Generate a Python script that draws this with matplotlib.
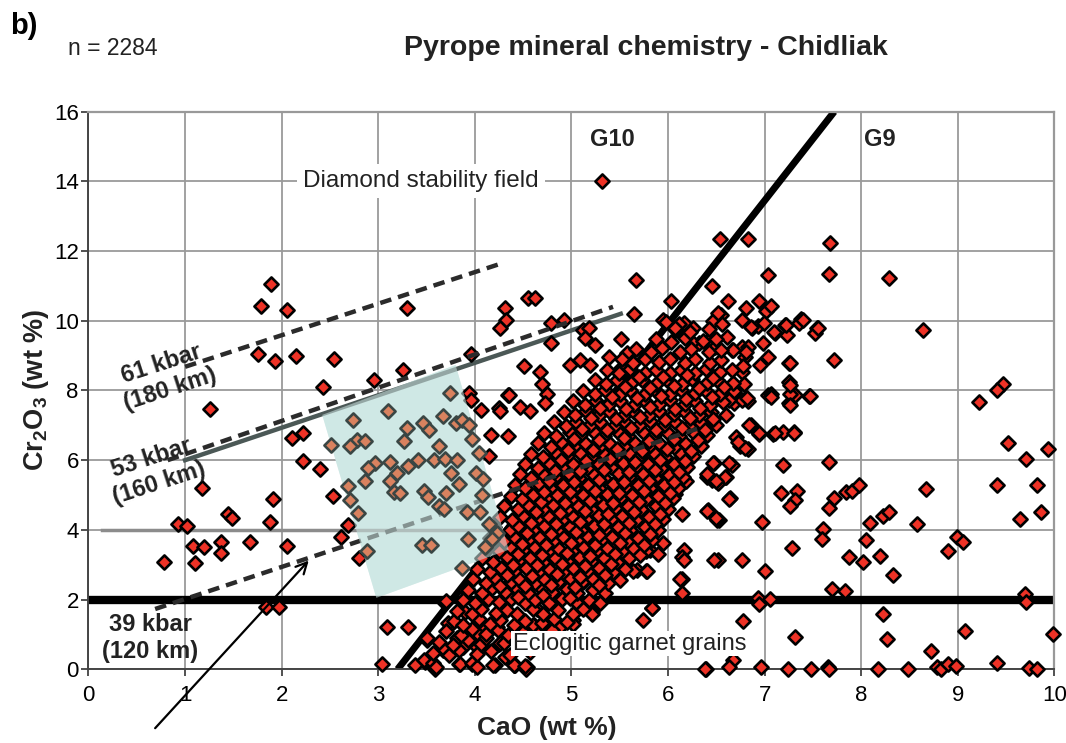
import matplotlib
matplotlib.use("Agg")
import matplotlib.pyplot as plt
from matplotlib.patches import Polygon

plt.rcParams['font.family'] = ['Liberation Sans', 'DejaVu Sans']
plt.rcParams['mathtext.fontset'] = 'custom'
plt.rcParams['mathtext.rm'] = 'Liberation Sans'
plt.rcParams['mathtext.bf'] = 'Liberation Sans:bold'

# ---------------- data ----------------
x_ticks = list(range(0, 11))
y_ticks = list(range(0, 17, 2))

# reference lines (CaO, Cr2O3)
g10_cao = [3.2, 7.72]
g10_cr = [0.0, 16.0]
kbar61_cao = [1.0, 4.28]
kbar61_cr = [8.68, 11.65]
kbar53_dash_cao = [0.82, 5.43]
kbar53_dash_cr = [6.0, 10.4]
kbar53_solid_cao = [1.0, 5.51]
kbar53_solid_cr = [6.0, 10.2]
kbar39_cao = [0.69, 6.3]
kbar39_cr = [1.73, 6.9]
cr2_line_cao = [0.0, 10.0]
cr2_line_cr = [2.0, 2.0]
cr4_line_cao = [0.14, 4.3]
cr4_line_cr = [4.0, 4.0]

# highlighted field (teal polygon)
field_cao = [2.42, 3.80, 4.35, 2.98]
field_cr = [7.3, 8.73, 3.43, 2.05]

# scattered grains outside the dense band
outer_pts = [
    (1.89, 11.05), (1.79, 10.43), (2.05, 10.3), (1.75, 9.05), (1.93, 8.85), (2.15, 9.0),
    (2.43, 8.1), (1.26, 7.47), (2.11, 6.63), (2.22, 6.77), (2.22, 5.99), (2.40, 5.74),
    (1.18, 5.2), (1.91, 4.88), (1.44, 4.46), (1.49, 4.33), (1.88, 4.24), (0.93, 4.16),
    (1.02, 4.1), (1.08, 3.55), (1.2, 3.52), (1.37, 3.65), (1.37, 3.33), (1.67, 3.66),
    (2.05, 3.55), (0.78, 3.07), (1.10, 3.06), (1.84, 1.78), (1.97, 1.8), (2.53, 4.97),
    (2.69, 4.14), (2.61, 3.81), (2.80, 3.2), (3.09, 1.22), (3.31, 1.22), (3.04, 0.15),
    (2.54, 8.9), (3.26, 8.59), (2.96, 8.3), (3.96, 9.05), (3.30, 10.38),
    (3.94, 7.94), (3.96, 7.73), (4.06, 7.45), (4.25, 7.5), (4.34, 7.88),
    (4.17, 6.73), (4.34, 6.69), (4.15, 6.11), (4.26, 7.4), (4.47, 7.54), (4.57, 7.4),
    (4.31, 10.37), (4.32, 10.03), (4.26, 9.79), (4.55, 10.65), (4.62, 10.65),
    (5.65, 10.2), (5.67, 11.17), (5.51, 9.47), (4.79, 9.93), (4.92, 10.03),
    (5.12, 9.74), (5.18, 9.79), (5.14, 9.5), (5.24, 9.31), (4.79, 9.36), (4.51, 8.7),
    (4.67, 8.54), (4.69, 8.2), (4.75, 7.91), (4.73, 7.64), (4.35, 7.87),
    (4.98, 8.73), (5.09, 8.88), (5.19, 8.73), (5.39, 8.97), (5.51, 8.64), (5.57, 9.07),
    (5.32, 14.0), (6.54, 12.34), (6.83, 12.34), (7.68, 12.22), (6.45, 10.99),
    (7.03, 11.31), (7.67, 11.33), (8.29, 11.23), (8.64, 9.74), (6.03, 10.56),
    (5.95, 10.03), (6.07, 9.76), (6.16, 9.93), (6.26, 9.8), (6.62, 10.56), (6.46, 9.98),
    (6.55, 10.17), (6.77, 10.03), (6.81, 10.37), (6.94, 10.56), (7.01, 10.27),
    (7.07, 10.41), (7.21, 9.88), (7.38, 10.05), (7.36, 9.93), (7.54, 9.79), (7.52, 9.64),
    (6.87, 9.79), (6.93, 9.84), (6.99, 9.93), (7.11, 9.64), (7.23, 9.6), (7.72, 8.87),
    (7.25, 8.8), (6.98, 9.36), (7.03, 8.97), (6.95, 8.73), (7.25, 8.25), (7.03, 7.87),
    (7.07, 7.91), (7.25, 7.63), (7.29, 7.87), (7.46, 7.84), (6.77, 8.54), (6.79, 8.2),
    (6.81, 7.77), (9.47, 8.2), (9.41, 8.0), (9.22, 7.67), (6.52, 10.23), (6.56, 9.92),
    (6.11, 9.92), (6.08, 9.73), (5.98, 9.97), (6.18, 9.54), (6.32, 9.35), (6.25, 9.4),
    (6.42, 9.45), (6.49, 9.26), (6.61, 9.54), (6.66, 9.16), (6.76, 9.26), (6.80, 8.97),
    (6.78, 8.69), (6.86, 9.82), (7.10, 9.68), (7.22, 9.87), (7.40, 10.03), (7.55, 9.8),
    (6.83, 9.25), (6.81, 9.1), (6.67, 9.15), (7.26, 8.79), (7.31, 7.86), (7.47, 7.83),
    (7.26, 7.91), (6.83, 7.71), (6.86, 7.02), (6.94, 6.74), (7.09, 6.74), (7.30, 6.8),
    (6.83, 6.32), (6.74, 6.42), (9.52, 6.49), (9.93, 6.32), (9.71, 6.02), (6.48, 5.91),
    (6.66, 5.85), (7.19, 5.86), (7.67, 5.96), (6.40, 5.51), (6.60, 5.53),
    (6.52, 5.35), (6.64, 4.91), (6.41, 4.56), (6.53, 4.29), (6.97, 4.24), (7.17, 5.06),
    (7.33, 5.13), (7.31, 4.87), (7.26, 4.69), (7.72, 4.91), (7.67, 4.63), (7.84, 5.08),
    (7.90, 5.11), (7.98, 5.30), (8.67, 5.17), (9.41, 5.30), (9.82, 5.30), (9.64, 4.31),
    (9.86, 4.51), (8.09, 4.21), (8.22, 4.40), (8.29, 4.51), (8.58, 4.17), (7.60, 4.02),
    (7.59, 3.73), (7.28, 3.47), (6.52, 3.13), (6.77, 3.15), (7.0, 2.83), (7.87, 3.23),
    (8.02, 3.09), (8.19, 3.25), (8.33, 2.70), (8.05, 3.71), (8.90, 3.38), (8.99, 3.81),
    (9.05, 3.66), (7.70, 2.29), (7.83, 2.25), (6.93, 2.06), (6.94, 1.87), (7.06, 2.01),
    (9.69, 2.17), (9.70, 1.93), (6.78, 1.38), (7.31, 0.92), (8.22, 1.6), (8.27, 0.86),
    (9.07, 1.10), (8.72, 0.52), (6.67, 0.27), (6.63, 0.06), (9.98, 1.0),
    (6.39, 0.0), (6.96, 0.06), (7.24, 0.02), (7.48, 0.0), (7.66, 0.08), (7.67, 0.0),
    (8.17, 0.02), (8.48, 0.0), (8.78, 0.06), (8.83, 0.0), (8.90, 0.15), (8.98, 0.1),
    (9.40, 0.17), (9.74, 0.04), (9.82, 0.02),
    (6.51, 4.28), (6.63, 4.88), (6.14, 4.47), (6.16, 3.42), (6.14, 3.23), (6.14, 2.58),
    (6.14, 2.18), (6.47, 5.93), (6.41, 5.54), (6.59, 5.52), (6.63, 5.93), (6.45, 5.43),
    (5.68, 2.85), (5.77, 2.83), (5.83, 1.75), (5.74, 1.41), (5.21, 1.65), (5.28, 2.46),
    (5.14, 2.56), (5.02, 1.41), (4.98, 2.22), (4.85, 1.94), (4.77, 1.22), (4.88, 1.22),
    (4.61, 1.27), (4.54, 0.07), (4.42, 0.12), (4.21, 0.12), (4.33, 0.36), (4.25, 0.74),
    (7.19, 6.81), (7.30, 6.79), (7.11, 6.77), (7.07, 7.82), (7.26, 8.15), (7.26, 7.58),
    (6.84, 7.0), (6.94, 6.77), (6.80, 6.34), (6.70, 6.67), (6.72, 6.53), (6.68, 7.63),
    (6.76, 7.72), (6.82, 7.77), (6.63, 7.72),
    (3.69, 1.91), (3.74, 1.28), (3.5, 0.84), (3.67, 0.55), (3.48, 0.21), (3.59, 0.02),
    (3.84, 0.14), (3.97, 0.14), (3.88, 0.65), (4.03, 0.65), (4.41, 0.12), (4.53, 0.0),
    (4.26, 0.75), (4.60, 1.28), (4.76, 1.23), (5.02, 1.3), (5.21, 1.59), (4.64, 1.72),
    (4.95, 2.16), (4.83, 1.91), (5.12, 2.5), (5.36, 2.83), (5.5, 3.32), (5.5, 3.71),
    (5.64, 3.42), (5.40, 3.56), (5.81, 3.42), (5.90, 3.32), (5.95, 3.61), (5.78, 3.95),
    (5.91, 4.53), (6.40, 4.53), (6.5, 4.34), (6.48, 3.13), (6.16, 3.13), (6.12, 2.59),
    (6.38, 0.02), (5.83, 1.77), (5.64, 2.83), (5.78, 2.83), (6.07, 5.02), (6.19, 5.41),
    (6.4, 5.6), (6.5, 5.41),
    (3.38, 0.12), (3.47, 0.27), (3.57, 0.17), (3.60, 0.06), (3.85, 0.15), (3.97, 0.19),
    (4.02, 0.07), (4.19, 0.12), (4.31, 0.36), (4.40, 0.12), (4.52, 0.09),
    (3.70, 1.97), (3.50, 0.89), (3.72, 1.32), (3.82, 0.89), (3.67, 0.6), (4.02, 0.65),
    (3.9, 1.65), (3.9, 2.28), (4.02, 1.03), (4.12, 1.18), (4.23, 1.22),
]

# dense band of grains (G10/G9 boundary)
cluster_pts = [
    (3.57, 0.46), (3.73, 0.40), (3.84, 0.55), (4.02, 0.43), (4.17, 0.52), (4.36, 0.41), (4.57, 0.49),
    (3.63, 0.79), (3.77, 0.70), (3.93, 0.84), (4.06, 0.72), (4.12, 0.9), (4.3, 0.75), (4.41, 0.83), (4.62, 0.73),
    (3.70, 1.09), (3.86, 0.99), (3.97, 1.15), (4.12, 1.02), (4.24, 1.12), (4.34, 0.97), (4.50, 1.08), (4.65, 1.0), (4.8, 1.13),
    (3.78, 1.40), (3.88, 1.28), (4.04, 1.44), (4.16, 1.31), (4.26, 1.42), (4.41, 1.27), (4.52, 1.39), (4.69, 1.33), (4.82, 1.45), (4.95, 1.36),
    (3.81, 1.67), (3.97, 1.58), (4.06, 1.73), (4.22, 1.62), (4.33, 1.7), (4.44, 1.6), (4.6, 1.72), (4.7, 1.6), (4.86, 1.69), (5.02, 1.58), (5.12, 1.74),
    (3.88, 1.98), (4.0, 1.9), (4.14, 2.02), (4.25, 1.92), (4.37, 2.01), (4.52, 1.89), (4.62, 1.99), (4.77, 1.9), (4.9, 2.03), (5.05, 1.93), (5.18, 2.0), (5.3, 1.9),
    (3.93, 2.28), (4.07, 2.19), (4.18, 2.32), (4.31, 2.21), (4.44, 2.3), (4.55, 2.2), (4.69, 2.31), (4.8, 2.22), (4.95, 2.29), (5.06, 2.19), (5.22, 2.27), (5.35, 2.2),
    (3.98, 2.59), (4.12, 2.49), (4.21, 2.61), (4.37, 2.51), (4.46, 2.6), (4.62, 2.49), (4.72, 2.59), (4.86, 2.5), (4.98, 2.62), (5.12, 2.52), (5.22, 2.6), (5.38, 2.49), (5.5, 2.57),
    (4.02, 2.89), (4.16, 2.79), (4.27, 2.91), (4.4, 2.81), (4.53, 2.9), (4.65, 2.79), (4.77, 2.89), (4.91, 2.8), (5.02, 2.92), (5.16, 2.82), (5.28, 2.9), (5.43, 2.79), (5.55, 2.88),
    (4.07, 3.19), (4.19, 3.09), (4.33, 3.21), (4.45, 3.11), (4.57, 3.2), (4.7, 3.09), (4.83, 3.19), (4.95, 3.1), (5.08, 3.21), (5.2, 3.12), (5.34, 3.19), (5.47, 3.09), (5.6, 3.18),
    (4.12, 3.48), (4.25, 3.39), (4.36, 3.51), (4.5, 3.41), (4.61, 3.5), (4.76, 3.39), (4.86, 3.49), (5.01, 3.4), (5.12, 3.52), (5.26, 3.42), (5.37, 3.49), (5.52, 3.39), (5.64, 3.47), (5.77, 3.4),
    (4.16, 3.78), (4.3, 3.69), (4.41, 3.81), (4.55, 3.71), (4.66, 3.8), (4.81, 3.69), (4.91, 3.79), (5.06, 3.7), (5.16, 3.82), (5.31, 3.72), (5.42, 3.79), (5.57, 3.69), (5.69, 3.77), (5.83, 3.71),
    (4.2, 4.09), (4.36, 3.99), (4.45, 4.11), (4.6, 4.01), (4.72, 4.1), (4.85, 3.99), (4.98, 4.09), (5.1, 4.0), (5.23, 4.12), (5.35, 4.02), (5.48, 4.09), (5.61, 3.99), (5.76, 4.08), (5.9, 4.0),
    (4.26, 4.38), (4.38, 4.29), (4.5, 4.41), (4.64, 4.31), (4.76, 4.4), (4.9, 4.29), (5.01, 4.39), (5.15, 4.3), (5.27, 4.42), (5.41, 4.32), (5.52, 4.39), (5.67, 4.29), (5.8, 4.37), (5.95, 4.3),
    (4.3, 4.69), (4.45, 4.59), (4.55, 4.71), (4.7, 4.61), (4.81, 4.7), (4.95, 4.59), (5.07, 4.69), (5.2, 4.6), (5.33, 4.72), (5.45, 4.62), (5.59, 4.69), (5.72, 4.59), (5.87, 4.68), (6.0, 4.61),
    (4.37, 4.98), (4.49, 4.89), (4.6, 5.01), (4.74, 4.91), (4.85, 5.0), (4.99, 4.89), (5.12, 4.99), (5.24, 4.9), (5.37, 5.02), (5.5, 4.92), (5.63, 4.99), (5.77, 4.89), (5.9, 4.98), (6.05, 4.91),
    (4.42, 5.28), (4.52, 5.19), (4.66, 5.31), (4.78, 5.21), (4.91, 5.3), (5.03, 5.19), (5.17, 5.29), (5.29, 5.2), (5.43, 5.32), (5.55, 5.22), (5.69, 5.29), (5.81, 5.19), (5.96, 5.28), (6.1, 5.21),
    (4.47, 5.59), (4.58, 5.49), (4.71, 5.61), (4.83, 5.51), (4.97, 5.6), (5.08, 5.49), (5.22, 5.59), (5.34, 5.5), (5.48, 5.62), (5.6, 5.52), (5.74, 5.59), (5.86, 5.49), (6.01, 5.58), (6.15, 5.51),
    (4.52, 5.88), (4.65, 5.79), (4.77, 5.91), (4.9, 5.81), (5.02, 5.9), (5.16, 5.79), (5.28, 5.89), (5.41, 5.8), (5.53, 5.92), (5.67, 5.82), (5.79, 5.89), (5.93, 5.79), (6.06, 5.88), (6.2, 5.81),
    (4.58, 6.19), (4.7, 6.09), (4.84, 6.21), (4.95, 6.11), (5.09, 6.2), (5.2, 6.09), (5.34, 6.19), (5.45, 6.1), (5.6, 6.22), (5.71, 6.12), (5.86, 6.19), (5.97, 6.09), (6.13, 6.18), (6.26, 6.11),
    (4.65, 6.48), (4.79, 6.39), (4.89, 6.51), (5.03, 6.41), (5.14, 6.5), (5.29, 6.39), (5.39, 6.49), (5.54, 6.4), (5.65, 6.52), (5.8, 6.42), (5.91, 6.49), (6.06, 6.39), (6.18, 6.48), (6.34, 6.41),
    (4.72, 6.79), (4.84, 6.69), (4.98, 6.81), (5.09, 6.71), (5.23, 6.8), (5.34, 6.69), (5.49, 6.79), (5.59, 6.7), (5.74, 6.82), (5.85, 6.72), (6.0, 6.79), (6.11, 6.69), (6.27, 6.78), (6.4, 6.71),
    (4.82, 7.09), (4.94, 6.99), (5.05, 7.11), (5.19, 7.01), (5.3, 7.1), (5.44, 6.99), (5.55, 7.09), (5.7, 7.0), (5.81, 7.12), (5.96, 7.02), (6.07, 7.09), (6.22, 6.99), (6.34, 7.08), (6.5, 7.01),
    (4.92, 7.38), (5.04, 7.29), (5.15, 7.41), (5.29, 7.31), (5.39, 7.4), (5.54, 7.29), (5.65, 7.39), (5.8, 7.3), (5.91, 7.42), (6.06, 7.32), (6.17, 7.39), (6.32, 7.29), (6.44, 7.38), (6.6, 7.31),
    (5.02, 7.69), (5.14, 7.59), (5.25, 7.71), (5.39, 7.61), (5.5, 7.7), (5.65, 7.59), (5.76, 7.69), (5.91, 7.6), (6.02, 7.72), (6.17, 7.62), (6.28, 7.69), (6.43, 7.59), (6.57, 7.68),
    (5.12, 7.98), (5.24, 7.89), (5.35, 8.01), (5.5, 7.91), (5.61, 8.0), (5.76, 7.89), (5.87, 7.99), (6.02, 7.9), (6.13, 8.02), (6.28, 7.92), (6.39, 7.99), (6.54, 7.89), (6.68, 7.98),
    (5.24, 8.29), (5.36, 8.19), (5.47, 8.31), (5.62, 8.21), (5.73, 8.3), (5.88, 8.19), (5.99, 8.29), (6.14, 8.2), (6.25, 8.32), (6.4, 8.22), (6.51, 8.29), (6.67, 8.21),
    (5.37, 8.58), (5.49, 8.49), (5.61, 8.61), (5.76, 8.51), (5.87, 8.6), (6.02, 8.49), (6.13, 8.59), (6.28, 8.5), (6.39, 8.62), (6.54, 8.52), (6.66, 8.58),
    (5.52, 8.89), (5.64, 8.79), (5.76, 8.91), (5.91, 8.81), (6.02, 8.9), (6.17, 8.79), (6.28, 8.89), (6.43, 8.8), (6.55, 8.88),
    (5.67, 9.18), (5.82, 9.09), (5.94, 9.21), (6.12, 9.11), (6.24, 9.2), (6.42, 9.09), (6.55, 9.17),
    (5.87, 9.48), (6.03, 9.39), (6.18, 9.51), (6.36, 9.41), (6.5, 9.47),
    (6.07, 9.78), (6.23, 9.69), (6.42, 9.77),
]

# extra grains filling the core of the band
core_pts = [
    (4.45, 2.08), (4.71, 2.12), (4.98, 2.05),
    (4.26, 2.4), (4.52, 2.38), (4.79, 2.42), (5.04, 2.36), (5.29, 2.41),
    (4.33, 2.7), (4.59, 2.68), (4.85, 2.73), (5.09, 2.66), (5.35, 2.71),
    (4.39, 3.0), (4.64, 2.98), (4.9, 3.03), (5.14, 2.96), (5.41, 3.02),
    (4.45, 3.3), (4.69, 3.28), (4.95, 3.33), (5.19, 3.26), (5.45, 3.31), (5.71, 3.27),
    (4.49, 3.6), (4.74, 3.58), (5.0, 3.63), (5.24, 3.56), (5.5, 3.61), (5.75, 3.57),
    (4.54, 3.9), (4.79, 3.88), (5.05, 3.93), (5.29, 3.86), (5.55, 3.91), (5.81, 3.87),
    (4.58, 4.2), (4.84, 4.18), (5.09, 4.23), (5.34, 4.16), (5.6, 4.21), (5.86, 4.17),
    (4.63, 4.5), (4.88, 4.48), (5.14, 4.53), (5.38, 4.46), (5.65, 4.51), (5.92, 4.47),
    (4.68, 4.8), (4.93, 4.78), (5.19, 4.83), (5.43, 4.76), (5.7, 4.81), (5.97, 4.77),
    (4.72, 5.1), (4.98, 5.08), (5.24, 5.13), (5.49, 5.06), (5.75, 5.11), (6.02, 5.07),
    (4.77, 5.4), (5.03, 5.38), (5.28, 5.43), (5.54, 5.36), (5.8, 5.41), (6.06, 5.37),
    (4.83, 5.7), (5.09, 5.68), (5.34, 5.73), (5.6, 5.66), (5.86, 5.71), (6.11, 5.67),
    (4.89, 6.0), (5.15, 5.98), (5.4, 6.03), (5.66, 5.96), (5.92, 6.01), (6.17, 5.97),
    (4.96, 6.3), (5.22, 6.28), (5.47, 6.33), (5.73, 6.26), (5.99, 6.31), (6.24, 6.27),
    (5.03, 6.6), (5.29, 6.58), (5.54, 6.63), (5.8, 6.56), (6.06, 6.61), (6.31, 6.57),
    (5.11, 6.9), (5.37, 6.88), (5.62, 6.93), (5.88, 6.86), (6.14, 6.91), (6.38, 6.87),
    (5.2, 7.2), (5.46, 7.18), (5.71, 7.23), (5.97, 7.16), (6.23, 7.21), (6.47, 7.17),
    (5.3, 7.5), (5.56, 7.48), (5.81, 7.53), (6.07, 7.46), (6.33, 7.51),
    (5.42, 7.8), (5.68, 7.78), (5.93, 7.83), (6.19, 7.76), (6.45, 7.81),
    (5.55, 8.1), (5.81, 8.08), (6.06, 8.13), (6.32, 8.06), (6.58, 8.11),
    (5.7, 8.4), (5.95, 8.38), (6.2, 8.43), (6.46, 8.36),
]

# grains inside the highlighted field
field_pts = [
    (3.74, 7.92), (3.10, 7.4), (2.74, 7.16), (3.67, 7.28), (3.80, 7.07), (3.87, 7.16),
    (3.94, 7.02), (3.30, 6.92), (3.46, 7.07), (3.53, 6.86), (2.78, 6.59), (2.86, 6.54),
    (2.71, 6.4), (2.51, 6.45), (3.27, 6.56), (3.63, 6.4), (3.97, 6.62), (2.97, 5.92),
    (2.89, 5.78), (3.12, 5.94), (3.41, 6.0), (3.31, 5.83), (3.58, 6.0), (3.69, 6.02),
    (3.82, 6.0), (4.04, 6.21), (3.75, 5.64), (3.19, 5.64), (3.12, 5.4), (2.86, 5.40),
    (2.69, 5.26), (2.71, 4.85), (4.01, 5.64), (4.08, 5.45), (3.84, 5.33), (3.16, 5.09),
    (3.22, 5.07), (3.47, 5.11), (3.51, 4.94), (3.70, 5.05), (4.07, 4.99), (3.63, 4.69),
    (3.68, 4.59), (3.92, 4.52), (4.05, 4.52), (2.79, 4.48), (4.15, 4.16), (4.23, 3.92),
    (4.18, 3.73), (3.45, 3.57), (3.55, 3.56), (3.93, 3.73), (4.10, 3.5), (2.88, 3.38),
    (3.87, 2.92),
]

# ---------------- figure ----------------
RED = '#ee3226'
MS = 52
MLW = 1.9
fig = plt.figure(figsize=(10.66, 7.43), dpi=100)
ax = fig.add_axes([0.083, 0.0992, 0.9062, 0.7505])
ax.set_xlim(0, 10)
ax.set_ylim(0, 16)
ax.set_xticks(x_ticks)
ax.set_yticks(y_ticks)
ax.tick_params(axis='both', labelsize=16, direction='out', length=5, width=1.2,
               color='#333333', pad=6)
ax.tick_params(axis='y', pad=2)
ax.grid(True, color='#9a9a9a', lw=1.3, zorder=0)
ax.set_axisbelow(True)
for side in ['top', 'right']:
    ax.spines[side].set_color('#999999')
    ax.spines[side].set_linewidth(1.6)
for side in ['left', 'bottom']:
    ax.spines[side].set_color('#444444')
    ax.spines[side].set_linewidth(1.4)

field_xy = list(zip(field_cao, field_cr))
ax.add_patch(Polygon(field_xy, closed=True, facecolor='#cfe8e5', edgecolor='none', zorder=1))

ax.plot(cr2_line_cao, cr2_line_cr, color='black', lw=6, solid_capstyle='butt', zorder=2)
ax.plot(g10_cao, g10_cr, color='black', lw=5, solid_capstyle='butt', zorder=2)
ax.plot(cr4_line_cao, cr4_line_cr, color='#8c8c8c', lw=2.5, zorder=2)
ax.plot(kbar53_solid_cao, kbar53_solid_cr, color='#4b5856', lw=3.2, zorder=2)

all_pts = outer_pts + cluster_pts + core_pts
ox = [p[0] for p in all_pts]
oy = [p[1] for p in all_pts]
ax.scatter(ox, oy, marker='D', s=MS, facecolor=RED, edgecolor='black',
           linewidths=MLW, zorder=3, clip_on=False)

dash = (0, (2.6, 1.6))
ax.plot(kbar61_cao, kbar61_cr, color='#2b2b2b', lw=3.2, ls=dash, zorder=4)
ax.plot(kbar53_dash_cao, kbar53_dash_cr, color='#2b2b2b', lw=3.2, ls=dash, zorder=4)
ax.plot(kbar39_cao, kbar39_cr, color='#2b2b2b', lw=3.2, ls=dash, zorder=4)

ax.add_patch(Polygon(field_xy, closed=True, facecolor='#cfe8e5', edgecolor='none',
                     alpha=0.55, zorder=5))
fx = [p[0] for p in field_pts]
fy = [p[1] for p in field_pts]
ax.scatter(fx, fy, marker='D', s=MS, facecolor='#d9825f', edgecolor='#3a4644',
           linewidths=MLW, zorder=6)

# arrow
ax.annotate('', xy=(2.28, 3.12), xytext=(0.69, -1.69), xycoords='data',
            arrowprops=dict(arrowstyle='->', lw=1.6, color='black', mutation_scale=20,
                            shrinkA=0, shrinkB=0, clip_on=False),
            annotation_clip=False, zorder=7)

# annotations
ax.text(3.44, 14.0, 'Diamond stability field', fontsize=17.5, ha='center', va='center',
        color='#222222', zorder=7,
        bbox=dict(boxstyle='square,pad=0.25', facecolor='white', edgecolor='none'))
ax.text(5.42, 15.19, 'G10', fontsize=17, fontweight='bold', ha='center', va='center',
        color='#222222', zorder=7)
ax.text(8.19, 15.19, 'G9', fontsize=17, fontweight='bold', ha='center', va='center',
        color='#222222', zorder=7)
ax.text(4.39, 0.74, 'Eclogitic garnet grains', fontsize=17, ha='left', va='center',
        color='#222222', zorder=7,
        bbox=dict(boxstyle='square,pad=0.05', facecolor='white', edgecolor='none'))
ax.text(0.80, 8.40, '61 kbar\n(180 km)', fontsize=17, fontweight='bold', ha='center',
        va='center', rotation=18, rotation_mode='anchor', color='#222222', zorder=7,
        multialignment='center')
ax.text(0.69, 5.70, '53 kbar\n(160 km)', fontsize=17, fontweight='bold', ha='center',
        va='center', rotation=18, rotation_mode='anchor', color='#222222', zorder=7,
        multialignment='center')
ax.text(0.64, 0.89, '39 kbar\n(120 km)', fontsize=17, fontweight='bold', ha='center',
        va='center', color='#222222', zorder=7, multialignment='center')

fig.text(0.0094, 0.965, 'b)', fontsize=21, fontweight='bold', ha='left', va='center')
fig.text(0.064, 0.935, 'n = 2284', fontsize=16.5, ha='left', va='center', color='#222222')
fig.text(0.606, 0.935, 'Pyrope mineral chemistry - Chidliak', fontsize=20.5,
         fontweight='bold', ha='center', va='center', color='#222222')
fig.text(0.513, 0.020, 'CaO (wt %)', fontsize=19, fontweight='bold', ha='center',
         va='center', color='#222222')
fig.text(0.034, 0.475, r'Cr$_\mathbf{2}$O$_\mathbf{3}$ (wt %)', fontsize=19.5,
         fontweight='bold', ha='center', va='center', rotation=90, color='#222222')

fig.savefig('out.png', dpi=100, facecolor='white')
